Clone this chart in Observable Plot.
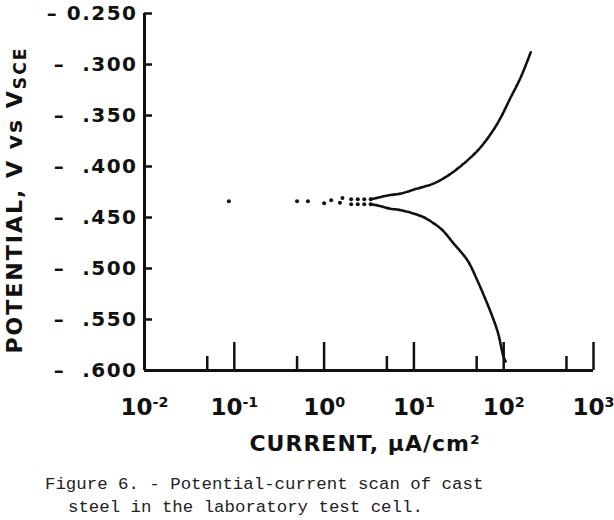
<!DOCTYPE html>
<html>
<head>
<meta charset="utf-8">
<script src="https://cdn.jsdelivr.net/npm/d3@7"></script>
<script src="https://cdn.jsdelivr.net/npm/@observablehq/plot@0.6"></script>
<style>
  html, body { margin: 0; padding: 0; background: #fff; }
  #wrap { width: 614px; height: 520px; position: relative; overflow: hidden; }
  .cap { font-family: "Liberation Mono", "DejaVu Sans Mono", monospace; font-size: 17.4px; color: #222; white-space: pre; position: absolute; }
</style>
</head>
<body>
<div id="wrap"></div>
<script>
// Sparse points near the corrosion potential (current µA/cm², potential V vs SCE)
const dotCurrent   = [0.087, 0.50, 0.66, 1.0, 1.2, 1.5, 1.6, 2.0, 2.0, 2.37, 2.37, 2.8, 2.8, 3.3, 3.3];
const dotPotential = [-0.434, -0.434, -0.434, -0.436, -0.433, -0.4356, -0.431, -0.432, -0.437, -0.432, -0.437, -0.432, -0.437, -0.432, -0.437];

// Anodic (upper) branch
const anodicCurrent   = [3.3, 3.95, 5.1, 7.2, 10.1, 16.8, 25.8, 39.5, 55.5, 85, 120, 155, 200];
const anodicPotential = [-0.432, -0.4307, -0.4284, -0.4265, -0.4225, -0.4165, -0.407, -0.394, -0.381, -0.358, -0.332, -0.3125, -0.288];

// Cathodic (lower) branch
const cathodicCurrent   = [3.3, 3.95, 5.5, 6.9, 10.1, 13, 20, 28, 39.5, 51, 66, 85, 100, 105];
const cathodicPotential = [-0.437, -0.4382, -0.4415, -0.4425, -0.4464, -0.450, -0.461, -0.476, -0.492, -0.512, -0.535, -0.561, -0.587, -0.591];

// Axis ticks and labels
const yTicks = [-0.25, -0.30, -0.35, -0.40, -0.45, -0.50, -0.55, -0.60];
const yTickLabels = ["\u2013\u00a00.250", "\u2013\u00a0\u00a0.300", "\u2013\u00a0\u00a0.350", "\u2013\u00a0\u00a0.400", "\u2013\u00a0\u00a0.450", "\u2013\u00a0\u00a0.500", "\u2013\u00a0\u00a0.550", "\u2013\u00a0\u00a0.600"];
const xTicks = [0.01, 0.1, 1, 10, 100, 1000];
const xTickExponents = ["-2", "-1", "0", "1", "2", "3"];
const xMinorTicks = [0.05, 0.5, 5, 50, 500];

const xLabel = "CURRENT, \u00b5A/cm\u00b2";
const yLabel = "POTENTIAL, V vs VSCE";
const caption1 = "Figure 6. - Potential-current scan of cast";
const caption2 = "steel in the laboratory test cell.";

const dots = dotCurrent.map((c, i) => ({current: c, potential: dotPotential[i]}));
const anodic = anodicCurrent.map((c, i) => ({current: c, potential: anodicPotential[i]}));
const cathodic = cathodicCurrent.map((c, i) => ({current: c, potential: cathodicPotential[i]}));

const yFmt = new Map(yTicks.map((t, i) => [t, yTickLabels[i]]));
const xFmt = new Map(xTicks.map((t, i) => [t, "10^" + xTickExponents[i]]));

const chart = Plot.plot({
  width: 614,
  height: 462,
  marginLeft: 144,
  marginRight: 21,
  marginTop: 13,
  marginBottom: 92,
  x: {type: "log", domain: [0.01, 1000]},
  y: {domain: [-0.6, -0.25]},
  style: {fontFamily: "DejaVu Sans, sans-serif", color: "#111", background: "#fff"},
  marks: [
    Plot.axisY(yTicks, {tickSize: 0, tickPadding: 7, tickFormat: d => yFmt.get(d), fontSize: 20, fontWeight: 600,
      label: yLabel, labelAnchor: "center", labelOffset: 138, labelArrow: "none"}),
    Plot.axisY(yTicks, {tickSize: 8, dx: 8, text: null, strokeWidth: 2.5, label: null}),
    Plot.axisX(xTicks, {tickSize: 0, tickPadding: 28, tickFormat: d => xFmt.get(d), fontSize: 23, fontWeight: 600,
      label: xLabel, labelAnchor: "center", labelOffset: 80, labelArrow: "none"}),
    Plot.axisX(xTicks, {tickSize: 28, dy: -28, text: null, strokeWidth: 2.5, label: null}),
    Plot.axisX(xMinorTicks, {tickSize: 14, dy: -14, text: null, strokeWidth: 2.5, label: null}),
    Plot.ruleX([0.01], {strokeWidth: 3, stroke: "#111"}),
    Plot.ruleY([-0.6], {strokeWidth: 3, stroke: "#111"}),
    Plot.line(anodic, {x: "current", y: "potential", stroke: "#111", strokeWidth: 2.6, strokeDasharray: "4,1.4", curve: "catmull-rom"}),
    Plot.line(cathodic, {x: "current", y: "potential", stroke: "#111", strokeWidth: 2.6, strokeDasharray: "4,1.4", curve: "catmull-rom"}),
    Plot.dot(dots, {x: "current", y: "potential", r: 2, fill: "#111", stroke: "none"})
  ]
});

// styling of axis label texts and superscripts/subscripts
chart.querySelectorAll("text").forEach(t => {
  const s = t.textContent;
  if (s === yLabel) {
    t.innerHTML = 'POTENTIAL, V vs V<tspan baseline-shift="-25%" font-size="0.78em">SCE</tspan>';
    t.setAttribute("font-size", 22);
    t.setAttribute("font-weight", "bold");
    t.setAttribute("letter-spacing", "2");
    t.setAttribute("dx", "-8");
  } else if (s === xLabel) {
    t.setAttribute("font-size", 22);
    t.setAttribute("font-weight", "bold");
    t.setAttribute("letter-spacing", "1");
    t.setAttribute("dx", "-4");
  } else if (yTickLabels.includes(s)) {
    t.setAttribute("letter-spacing", "1.5");
  }
});
chart.querySelectorAll("text, tspan").forEach(t => {
  if (t.children.length === 0 && /^10\^/.test(t.textContent)) {
    const exp = t.textContent.slice(3);
    t.innerHTML = '10<tspan dy="-0.55em" font-size="0.62em">' + exp + '</tspan>';
  }
});

const wrap = document.getElementById("wrap");
wrap.appendChild(chart);
const c1 = document.createElement("div");
c1.className = "cap"; c1.textContent = caption1; c1.style.left = "45px"; c1.style.top = "475px";
const c2 = document.createElement("div");
c2.className = "cap"; c2.textContent = caption2; c2.style.left = "68px"; c2.style.top = "498px";
wrap.appendChild(c1); wrap.appendChild(c2);
</script>
</body>
</html>
